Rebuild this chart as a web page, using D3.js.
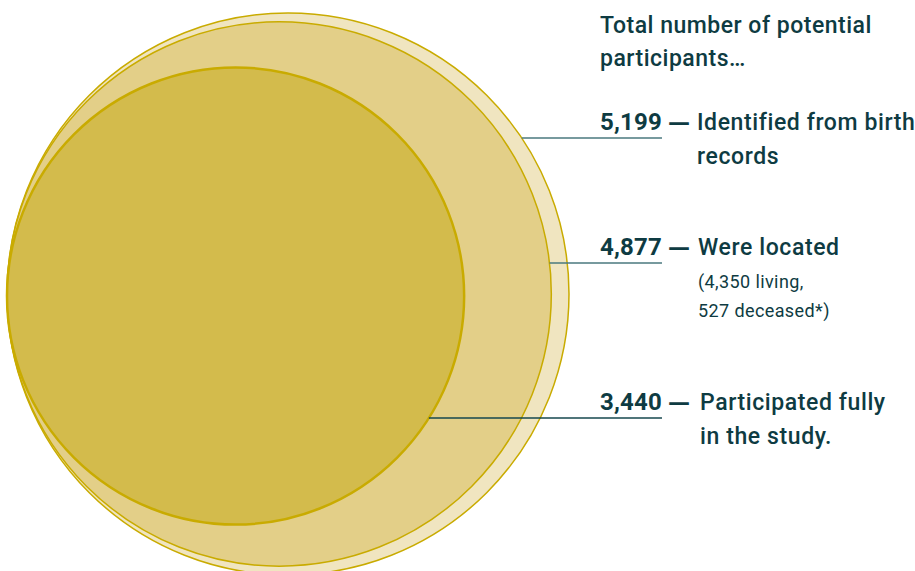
<!DOCTYPE html>
<html>
<head>
<meta charset="utf-8">
<script src="https://cdn.jsdelivr.net/npm/d3@7"></script>
<style>
  html, body { margin: 0; padding: 0; background: #fff; }
  svg { display: block; font-family: Roboto, "Noto Sans", sans-serif; }
</style>
</head>
<body>
<svg id="chart" width="915" height="571"></svg>
<script>
// participants funnel, drawn as nested circles sized by area
var values = [5199, 4877, 3440];
var numberLabels = ['5,199', '4,877', '3,440'];
var descriptions = [
    ['Identified from birth', 'records'],
    ['Were located'],
    ['Participated fully', 'in the study.']
];
var notes = [[], ['(4,350 living,', '527 deceased*)'], []];
var titleLines = ['Total number of potential', 'participants\u2026'];

var svg = d3.select('#chart'),
    textColor = '#0e3b42',
    leftEdge = 7,
    centerY = 294,
    fills = ['#f0e5c0', '#e3cf88', '#d3bb4c'],
    strokeWidths = [1.5, 1.5, 2.5],
    lineColors = ['#4a787e', '#4a787e', '#16474e'],
    labelX = 600,
    dashX = 668,
    descX = [697, 698, 700],
    baselines = [130, 255, 410];

var r = d3.scaleSqrt().domain([0, d3.max(values)]).range([0, 281]);

var circles = values.map(function (v, i) {
    return { value: v, r: r(v), cx: leftEdge + r(v), cy: centerY + (i === 2 ? 2 : 0), i: i };
});

svg.append('g')
    .selectAll('circle')
    .data(circles)
    .join('circle')
    .attr('cx', function (d) { return d.cx; })
    .attr('cy', function (d) { return d.cy; })
    .attr('r', function (d) { return d.r; })
    .attr('fill', function (d) { return fills[d.i]; })
    .attr('stroke', '#c9ab00')
    .attr('stroke-width', function (d) { return strokeWidths[d.i]; });

// title
svg.append('text')
    .attr('fill', textColor)
    .attr('font-size', 23)
    .attr('font-weight', 500)
    .attr('letter-spacing', 0.5)
    .selectAll('tspan')
    .data(titleLines)
    .join('tspan')
    .attr('x', labelX)
    .attr('y', function (d, i) { return 33 + i * 33; })
    .text(function (d) { return d; });

var labels = svg.append('g').selectAll('g')
    .data(circles)
    .join('g');

var numbers = labels.append('text')
    .attr('x', labelX)
    .attr('y', function (d) { return baselines[d.i]; })
    .attr('fill', textColor)
    .attr('font-size', 24)
    .attr('font-weight', 700)
    .attr('letter-spacing', 0.2)
    .text(function (d) { return numberLabels[d.i]; });

labels.append('text')
    .attr('x', dashX)
    .attr('y', function (d) { return baselines[d.i]; })
    .attr('fill', textColor)
    .attr('font-family', '"DejaVu Sans", sans-serif')
    .attr('font-size', 22)
    .attr('font-weight', 700)
    .text('\u2014');

labels.append('text')
    .attr('fill', textColor)
    .attr('font-size', 23)
    .attr('font-weight', 500)
    .attr('letter-spacing', 0.6)
    .selectAll('tspan')
    .data(function (d) {
        return descriptions[d.i].map(function (t, j) { return { t: t, i: d.i, j: j }; });
    })
    .join('tspan')
    .attr('x', function (d) { return descX[d.i]; })
    .attr('y', function (d) { return baselines[d.i] + d.j * 34; })
    .text(function (d) { return d.t; });

labels.append('text')
    .attr('fill', textColor)
    .attr('font-size', 18)
    .attr('letter-spacing', 0.4)
    .selectAll('tspan')
    .data(function (d) {
        return notes[d.i].map(function (t, j) { return { t: t, i: d.i, j: j }; });
    })
    .join('tspan')
    .attr('x', function (d) { return descX[d.i]; })
    .attr('y', function (d) { return baselines[d.i] + 33 + d.j * 29; })
    .text(function (d) { return d.t; });

// leader lines from circle edge to the end of each number
numbers.each(function (d) {
    var y = baselines[d.i] + 8,
        dy = y - d.cy,
        x0 = d.cx + Math.sqrt(d.r * d.r - dy * dy),
        x1 = labelX + this.getComputedTextLength();
    svg.append('line')
        .attr('x1', x0)
        .attr('x2', x1)
        .attr('y1', y)
        .attr('y2', y)
        .attr('stroke', lineColors[d.i])
        .attr('stroke-width', 1.5);
});
</script>
</body>
</html>
